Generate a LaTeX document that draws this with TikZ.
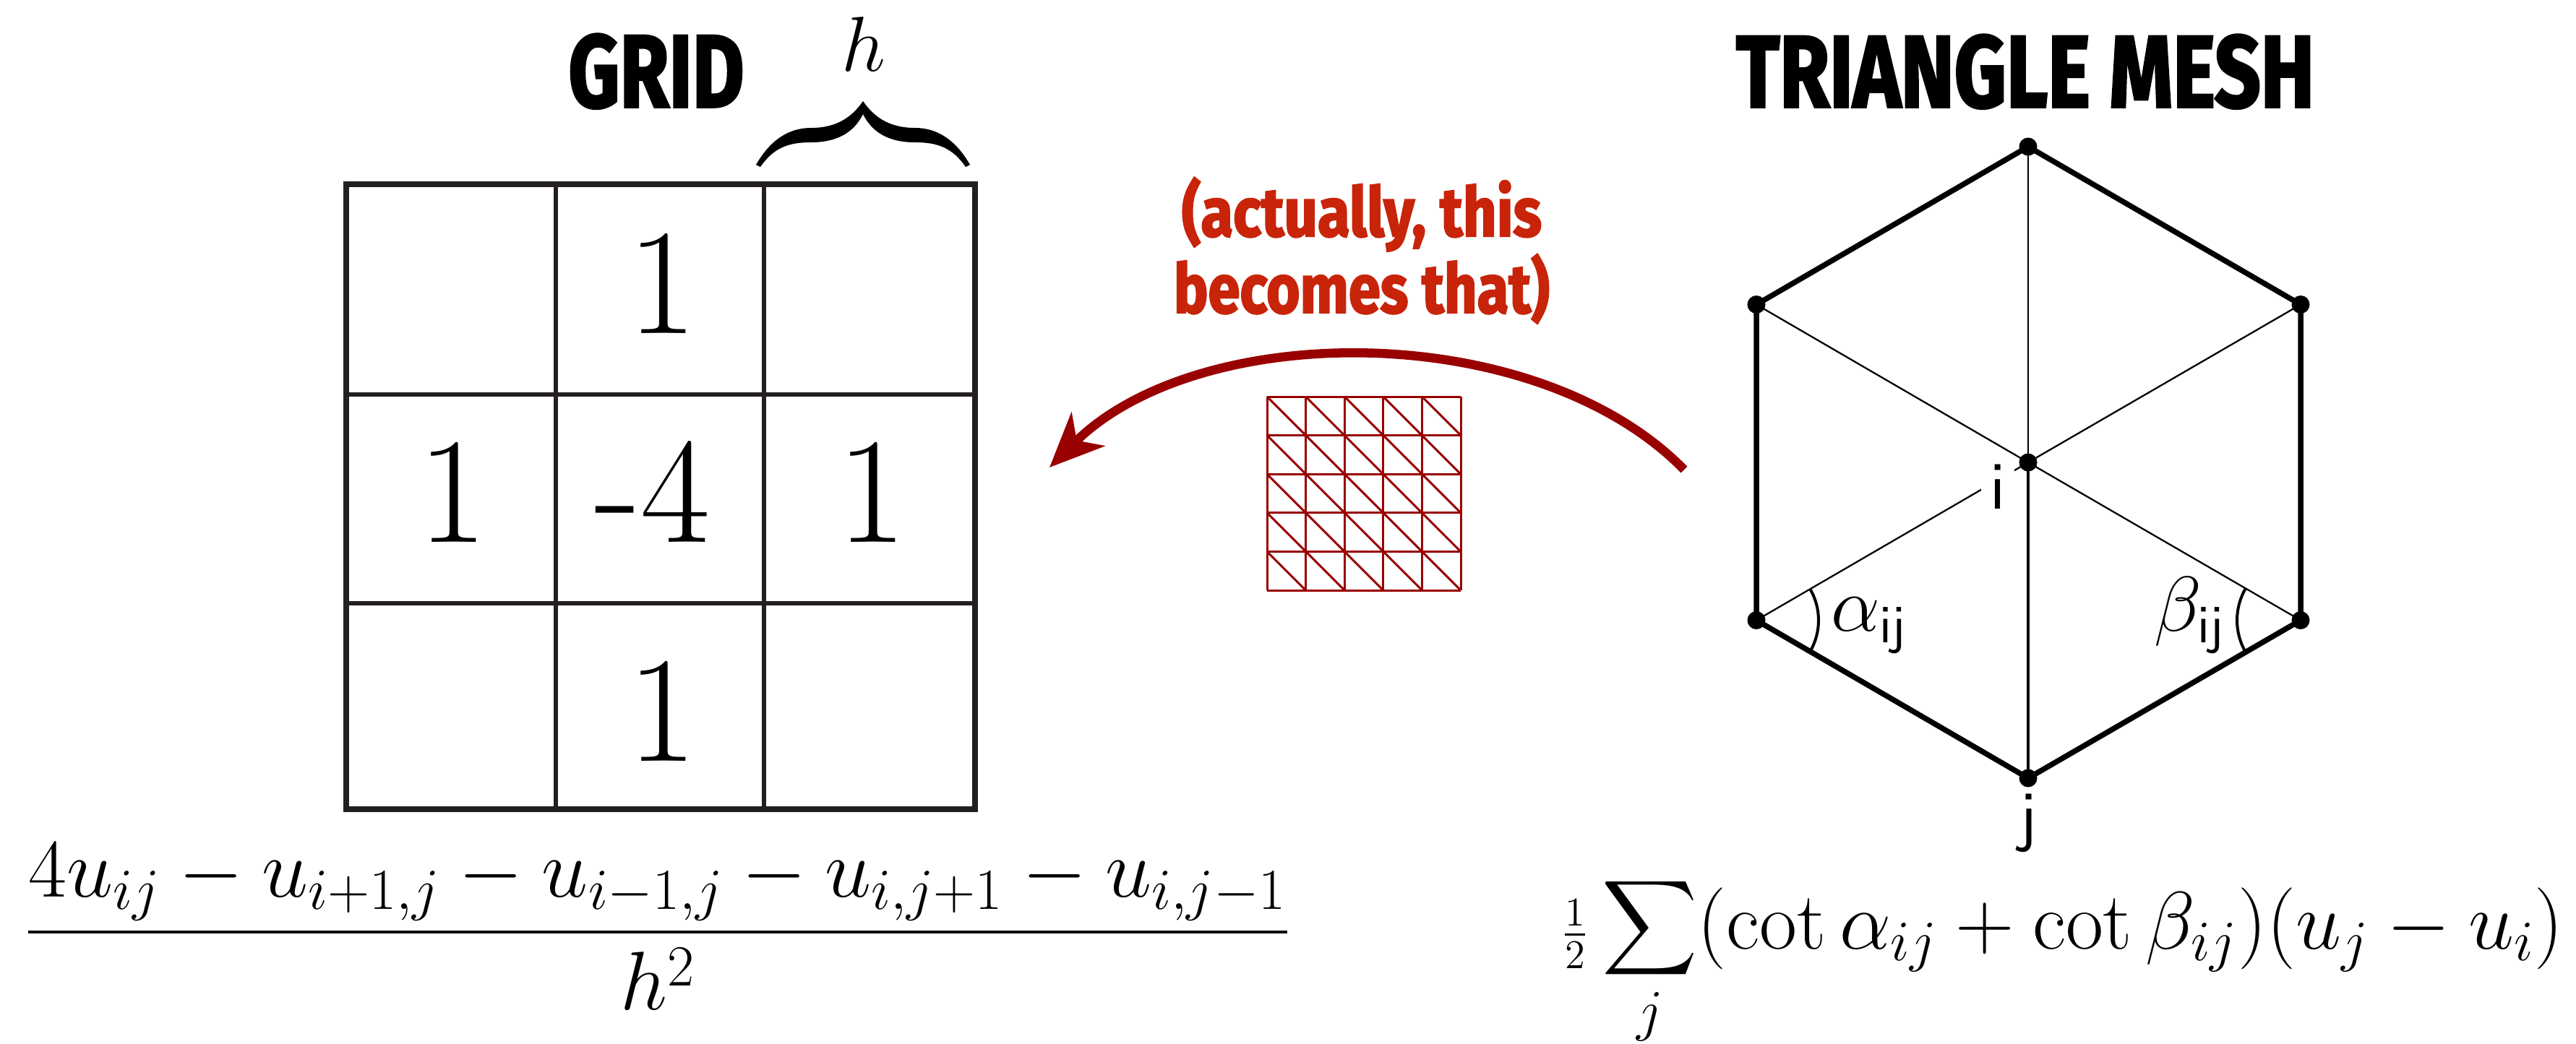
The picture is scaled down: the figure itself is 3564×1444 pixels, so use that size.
\RequirePackage{fix-cm}
\documentclass[tikz,border=0pt]{standalone}
\usepackage{exscale}
\usepackage{fontspec}
\usepackage{graphicx}
\newfontfamily\titlefont{Fira Sans}[BoldFeatures={FakeBold=2.5}]
\usetikzlibrary{arrows.meta,calc}
\definecolor{gridgray}{RGB}{35,31,32}
\definecolor{meshred}{RGB}{153,0,0}
\definecolor{notered}{RGB}{200,36,10}
\newcommand\mathfs{\fontsize{30.7pt}{34pt}\selectfont}
\newcommand\digitfs{\fontsize{59.5pt}{64pt}\selectfont}
\newcommand\labfs{\fontsize{27pt}{30pt}\selectfont}
\begin{document}
\begin{tikzpicture}[x=0.1mm,y=-0.1mm,
  outerline/.style={draw=gridgray,line width=0.8mm},
  innerline/.style={draw=gridgray,line width=0.6mm},
  digit/.style={inner sep=0,anchor=base,font=\digitfs},
  txt/.style={inner sep=0,anchor=base},
  meshline/.style={draw=meshred,line width=0.3mm},
  hexedge/.style={draw=black,line width=0.75mm,line cap=round},
  spoke/.style={draw=black,line width=0.23mm},
  mainspoke/.style={draw=black,line width=0.4mm},
  dot/.style={circle,fill=black,inner sep=0,minimum size=2.5mm},
  anglearc/.style={draw=black,line width=0.4mm},
  sanslab/.style={inner sep=0,anchor=base,font=\labfs\sffamily}]
\useasboundingbox (0,0) rectangle (3564,1444);

% ---------- titles ----------
\node[txt] (gridtitle) at (908,148) {\resizebox{2.43cm}{1.01cm}{\titlefont\bfseries GRID}};
\node[txt] (meshtitle) at (2802,148) {\resizebox{8cm}{1cm}{\titlefont\bfseries TRIANGLE MESH}};

% ---------- grid ----------
\draw[innerline] (769,255) -- (769,1120);
\draw[innerline] (1057,255) -- (1057,1120);
\draw[innerline] (479,546) -- (1349,546);
\draw[innerline] (479,835) -- (1349,835);
\draw[outerline] (479,255) rectangle (1349,1120);

\node[digit] (ntop) at (916,461) {1};
\node[digit] (nleft) at (626,750) {1};
\node[digit] (nmid) at (903,750) {-4};
\node[digit] (nright) at (1206,750) {1};
\node[digit] (nbot) at (916,1053) {1};

% ---------- brace and h ----------
\fill[black] (1046,228) .. controls (1065,195) and (1090,177) .. (1122,177)
  .. controls (1160,177) and (1180,160) .. (1194,140)
  .. controls (1208,160) and (1228,177) .. (1266,177)
  .. controls (1298,177) and (1323,195) .. (1342,228)
  -- (1336,231)
  .. controls (1318,205) and (1298,197) .. (1266,197)
  .. controls (1228,197) and (1206,182) .. (1194,158)
  .. controls (1182,182) and (1160,197) .. (1122,197)
  .. controls (1090,197) and (1070,205) .. (1052,231) -- cycle;
\node[txt,font=\mathfs] (hlab) at (1195,98) {$h$};

% ---------- formula left ----------
\node[txt,font=\mathfs] (lapl) at (910,1319)
  {\resizebox{17.5cm}{!}{$\displaystyle\frac{4u_{ij}-u_{i+1,j}-u_{i-1,j}-u_{i,j+1}-u_{i,j-1}}{h^2}$}};

% ---------- red note ----------
\node[txt,text=notered,align=center,
      font=\titlefont\bfseries\fontsize{27pt}{8.5mm}\selectfont] (note) at (1884,433)
  {\resizebox{4.98cm}{\height}{(actually, this}\\\resizebox{5.2cm}{\height}{becomes that)}};

% ---------- small red mesh ----------
\foreach \k in {0,...,5}{
  \draw[meshline] ({1753+\k*53.6},549) -- ({1753+\k*53.6},817);
  \draw[meshline] (1753,{549+\k*53.6}) -- (2021,{549+\k*53.6});
}
\foreach \a in {0,...,4}{
  \foreach \b in {0,...,4}{
    \draw[meshline] ({1753+\a*53.6},{549+\b*53.6}) -- ++(53.6,53.6);
  }
}

% ---------- arrow ----------
\coordinate (arrS) at (2330,650);
\coordinate (arrE) at (1452,647);
\draw[meshred,line width=1.25mm,-{Stealth[length=7.5mm,width=6.5mm,inset=2.2mm]}]
  (arrS) .. controls (2125,441) and (1660,441) .. (arrE);

% ---------- hexagon ----------
\coordinate (C) at (2806,640);
\coordinate (T) at (2806,203);
\coordinate (UL) at (2430,421.5);
\coordinate (UR) at (3183,421.5);
\coordinate (LL) at (2430,858.5);
\coordinate (LR) at (3183,858.5);
\coordinate (B) at (2806,1077);

\draw[spoke] (C) -- (T);
\draw[spoke] (C) -- (UL);
\draw[spoke] (C) -- (UR);
\draw[spoke] (C) -- (LL);
\draw[spoke] (C) -- (LR);
\draw[mainspoke] (C) -- (B);

\draw[hexedge] (T) -- (UR) -- (LR) -- (B) -- (LL) -- (UL) -- cycle;

\draw[anglearc] (LL) ++(-30:86) arc[start angle=-30,end angle=30,radius=86];
\draw[anglearc] (LR) ++(150:88) arc[start angle=150,end angle=210,radius=88];

\node[sanslab,fill=white,inner xsep=1.2mm,inner ysep=0.6mm] (ilab) at (2764,704) {i};
\node[sanslab] (jlab) at (2806,1160) {j};
\node[inner sep=0,anchor=base west,font=\mathfs] (alab) at (2533,873) {$\alpha_{\mathsf{ij}}$};
\node[inner sep=0,anchor=base west,font=\mathfs] (blab) at (2980,873) {$\beta_{\mathsf{ij}}$};

\foreach \v in {C,T,UL,UR,LL,LR,B}{
  \node[dot] (d\v) at (\v) {};
}

% ---------- formula right ----------
\node[txt,font=\mathfs] (cotf) at (2854,1313)
  {\resizebox{13.86cm}{!}{$\displaystyle{\scriptstyle\frac{1}{2}}\sum_j(\cot\alpha_{ij}+\cot\beta_{ij})(u_j-u_i)$}};
\end{tikzpicture}
\end{document}
